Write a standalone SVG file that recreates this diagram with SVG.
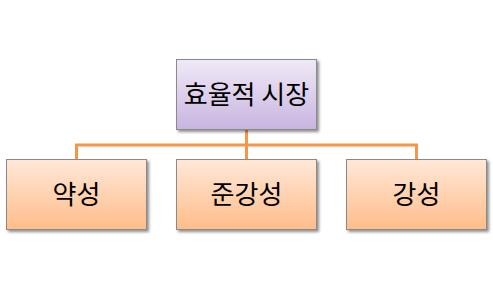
<svg xmlns="http://www.w3.org/2000/svg" width="493" height="290" viewBox="0 0 493 290">
<defs>
<linearGradient id="gTop" x1="0" y1="0" x2="0" y2="1">
<stop offset="0" stop-color="#F0E9F7"/>
<stop offset="1" stop-color="#C8B5E0"/>
</linearGradient>
<linearGradient id="gBot" x1="0" y1="0" x2="0" y2="1">
<stop offset="0" stop-color="#FFE8D8"/>
<stop offset="1" stop-color="#FFBD8A"/>
</linearGradient>
<filter id="sh" x="-10%" y="-10%" width="125%" height="130%">
<feGaussianBlur in="SourceAlpha" stdDeviation="1.5"/>
<feOffset dx="2" dy="2" result="b"/>
<feComponentTransfer><feFuncA type="linear" slope="0.45"/></feComponentTransfer>
<feMerge><feMergeNode/><feMergeNode in="SourceGraphic"/></feMerge>
</filter>
</defs>
<style>
.box{stroke:#8A8A8A;stroke-width:1}
.lbl{font-family:"Noto Sans CJK KR","Noto Sans",sans-serif;font-size:26px;fill:#000;text-anchor:middle}
.con{stroke:#F79646;stroke-width:3;fill:none}
</style>
<g id="connectors">
<path class="con" d="M246.5 129 V159"/>
<path class="con" d="M76.5 159 V145 H416.5 V159"/>
</g>
<g id="node-top">
<rect class="box" x="176.5" y="59.5" width="140" height="70" fill="url(#gTop)" filter="url(#sh)"/>
<text class="lbl" x="246.5" y="104">효율적 시장</text>
</g>
<g id="node-weak">
<rect class="box" x="6.5" y="159.5" width="140" height="70" fill="url(#gBot)" filter="url(#sh)"/>
<text class="lbl" x="76.5" y="204">약성</text>
</g>
<g id="node-semi">
<rect class="box" x="176.5" y="159.5" width="140" height="70" fill="url(#gBot)" filter="url(#sh)"/>
<text class="lbl" x="246.5" y="204">준강성</text>
</g>
<g id="node-strong">
<rect class="box" x="346.5" y="159.5" width="140" height="70" fill="url(#gBot)" filter="url(#sh)"/>
<text class="lbl" x="416.5" y="204">강성</text>
</g>
</svg>
